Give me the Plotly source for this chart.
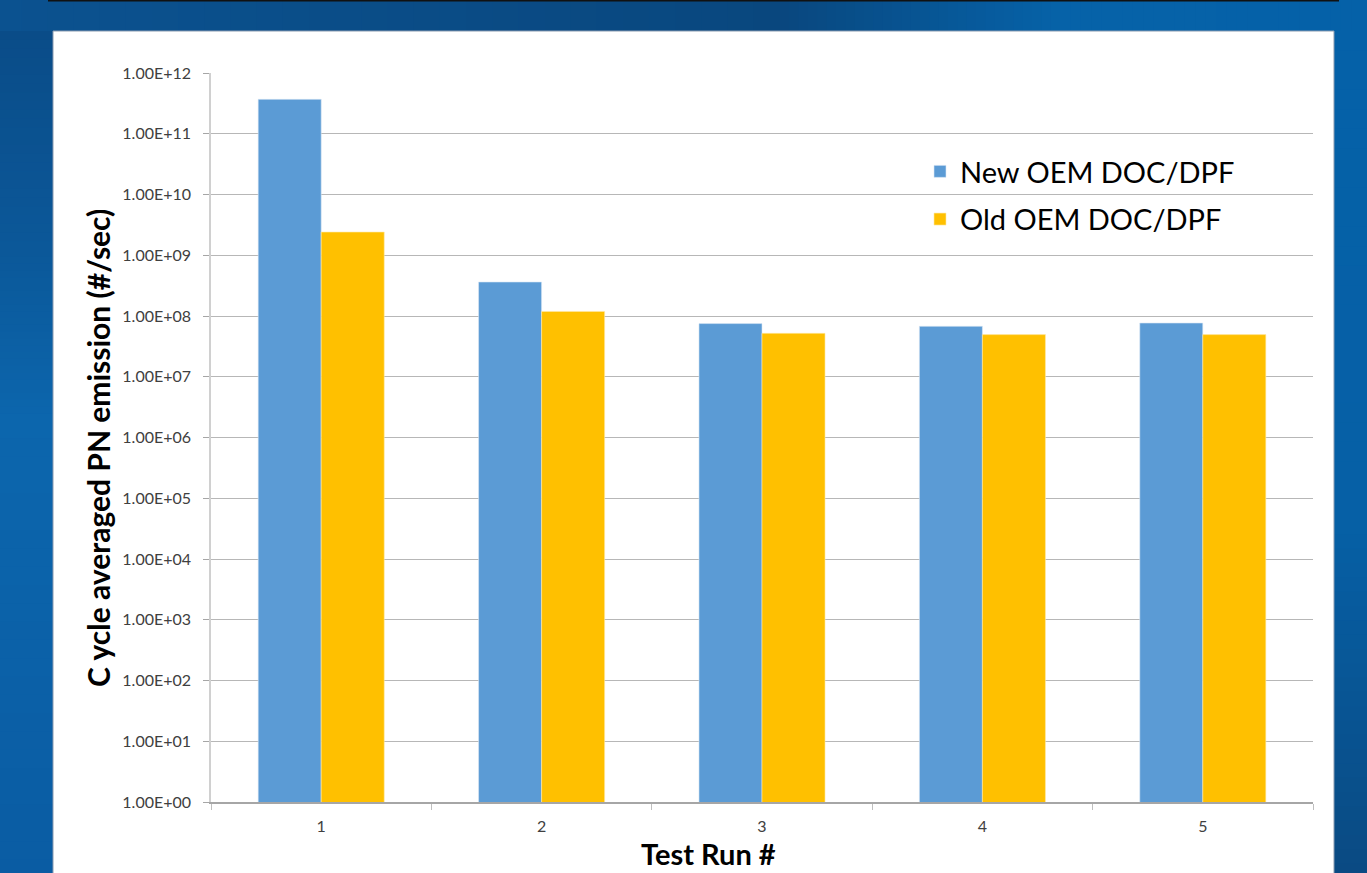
import plotly.graph_objects as go

# Cycle averaged particle number emission per test run
runs = ["1", "2", "3", "4", "5"]
new_oem = [3.69e11, 3.63e8, 7.5e7, 6.77e7, 7.67e7]
old_oem = [2.41e9, 1.19e8, 5.19e7, 4.94e7, 4.94e7]
series_names = ["New OEM DOC/DPF", "Old OEM DOC/DPF"]

y_tickvals = [10 ** k for k in range(0, 13)]
y_ticktext = ["1.00E+%02d" % k for k in range(0, 13)]

FONT = "Lato, 'Open Sans', sans-serif"

fig = go.Figure()
fig.add_trace(go.Bar(x=runs, y=new_oem, name=series_names[0],
                     marker=dict(color="#5b9bd5", line=dict(width=0.6, color="#dbe8f5")),
                     legendgroup="a"))
fig.add_trace(go.Bar(x=runs, y=old_oem, name=series_names[1],
                     marker=dict(color="#ffc000", line=dict(width=0.6, color="#ffe9a6")),
                     legendgroup="b"))

# helpers: pixel position -> paper fraction of the plot area
pw, ph = 1102.0, 729.0
def px_x(x):
    return (x - 211.0) / pw
def px_y(y):
    return (802.0 - y) / ph

def hex_to_rgb(h):
    h = h.lstrip("#")
    return tuple(int(h[i:i + 2], 16) for i in (0, 2, 4))

def blend(c0, c1, t):
    a, b = hex_to_rgb(c0), hex_to_rgb(c1)
    return "rgb(%d,%d,%d)" % tuple(round(a[i] + (b[i] - a[i]) * t) for i in range(3))

def gradient(stops, along, fixed0, fixed1, steps=40):
    """Stacked strips approximating a linear gradient between (pos, colour) stops."""
    out = []
    for (p0, c0), (p1, c1) in zip(stops[:-1], stops[1:]):
        for k in range(steps):
            a = p0 + (p1 - p0) * k / steps
            b = p0 + (p1 - p0) * (k + 1) / steps + 0.6
            col = blend(c0, c1, (k + 0.5) / steps)
            if along == "x":
                box = dict(x0=px_x(a), x1=px_x(b), y0=px_y(fixed1), y1=px_y(fixed0))
            else:
                box = dict(x0=px_x(fixed0), x1=px_x(fixed1), y0=px_y(b), y1=px_y(a))
            out.append(dict(type="rect", xref="paper", yref="paper", fillcolor=col,
                            line=dict(width=0), layer="below", **box))
    return out

# slide background around the white chart panel
shapes = []
shapes += gradient([(-5, "#0b5290"), (780, "#09477e"), (1060, "#0662a8"), (1372, "#0561a8")],
                   "x", -5, 31.5, steps=30)
shapes += gradient([(31, "#0a4c88"), (250, "#0b5899"), (420, "#0c66ad"), (878, "#0a5ca3")],
                   "y", -5, 53.5, steps=25)
shapes += gradient([(31, "#0561a8"), (520, "#0660a6"), (878, "#0a4a82")],
                   "y", 1333.5, 1372, steps=25)
shapes += [
    dict(type="rect", xref="paper", yref="paper",
         x0=px_x(53), x1=px_x(1334), y0=px_y(880), y1=px_y(31),
         fillcolor="white", line=dict(width=1, color="#8a9bb0"), layer="below"),
    dict(type="rect", xref="paper", yref="paper",
         x0=px_x(48), x1=px_x(1339), y0=px_y(1.5), y1=px_y(-2),
         fillcolor="#111111", line=dict(width=0), layer="below"),
]

fig.update_layout(
    shapes=shapes,
    width=1367, height=873,
    margin=dict(l=211, r=54, t=73, b=71),
    paper_bgcolor="#0a5ea5",
    plot_bgcolor="rgba(0,0,0,0)",
    barmode="group",
    bargap=0.428,
    bargroupgap=0,
    font=dict(family=FONT, color="#404040"),
    xaxis=dict(
        type="category",
        tickson="boundaries",
        ticks="outside", ticklen=6, tickcolor="#bfbfbf",
        ticklabelstandoff=9,
        showline=True, linecolor="#a6a6a6", linewidth=1.5,
        showgrid=False,
        tickfont=dict(size=16, color="#404040"),
    ),
    yaxis=dict(
        type="log",
        range=[0, 12],
        tickvals=y_tickvals, ticktext=y_ticktext,
        ticks="outside", ticklen=6, tickcolor="#a6a6a6",
        ticklabelstandoff=9,
        showline=True, linecolor="#d0d0d0", linewidth=1.5,
        showgrid=True, gridcolor="#b7b7b7", gridwidth=1,
        tickfont=dict(size=16, color="#404040"),
    ),
    legend=dict(
        x=px_x(920), y=px_y(146), xanchor="left", yanchor="top",
        bgcolor="rgba(0,0,0,0)",
        font=dict(size=29, color="#000000"),
        traceorder="grouped", tracegroupgap=7,
    ),
    annotations=[
        dict(text="<b>Test Run #</b>", xref="paper", yref="paper",
             x=px_x(708), y=px_y(873), xanchor="center", yanchor="bottom",
             showarrow=False, font=dict(size=29, color="#000000")),
        dict(text="<b>C ycle averaged PN emission (#/sec)</b>", xref="paper", yref="paper",
             x=px_x(98), y=px_y(448), xanchor="center", yanchor="middle",
             textangle=-90, showarrow=False, font=dict(size=30, color="#000000")),
    ],
)

fig.write_html("out.html")
